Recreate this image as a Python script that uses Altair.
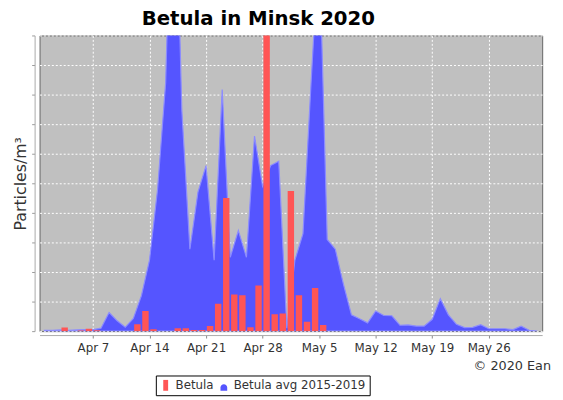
import altair as alt
import pandas as pd

# Days from Apr 1 2020 (area vertices at midnight)
avg_values = [0.3, 0.3, 0.4, 0.3, 0.4, 0.5, 0.5, 1.0, 6.3, 3.5,
              1.3, 4.3, 12, 24, 48, 84, 180, 75, 27.7, 47,
              56, 24, 81.7, 25, 34, 25, 66, 49, 56, 57.5,
              1, 24, 33, 84, 132, 31, 27.7, 16, 5.5, 4.2,
              2.8, 6.8, 5.3, 5.2, 2, 2.1, 1.7, 1.7, 4, 11,
              5.5, 2.3, 1.2, 1.3, 2.2, 0.8, 0.8, 0.8, 0.5, 1.7,
              0.3, 0]
# Daily 2020 counts Apr 1 .. May 5 (bars at noon)
betula_values = [0, 0, 1.2, 0, 0.2, 0.8, 0.3, 0, 0, 0,
                 0, 2.3, 6.8, 0.6, 0, 0, 1, 1, 0.4, 0.4,
                 1.7, 9.3, 45, 12.4, 12.1, 1.3, 15.4, 140, 5.7, 6,
                 47.4, 12.1, 3.2, 14.6, 2.1]
series_names = ["Betula", "Betula avg 2015-2019"]
tick_dates = ["2020-04-07", "2020-04-14", "2020-04-21", "2020-04-28",
              "2020-05-05", "2020-05-12", "2020-05-19", "2020-05-26"]
y_ticks = [0, 10, 20, 30, 40, 50, 60, 70, 80, 90, 100]

avg_dates = pd.date_range("2020-04-01", periods=len(avg_values), freq="D")
bar_dates = pd.date_range("2020-04-01 12:00", periods=len(betula_values), freq="D")

avg_df = pd.DataFrame({
    "date": [d.strftime("%Y-%m-%dT%H:%M:%SZ") for d in avg_dates],
    "value": avg_values,
})
bar_df = pd.DataFrame({
    "date": [d.strftime("%Y-%m-%dT%H:%M:%SZ") for d in bar_dates],
    "value": betula_values,
})
legend_df = pd.DataFrame({"series": series_names})

RED = "#ff5555"
BLUE = "#5555ff"
RECT_PATH = "M-0.45,-1H0.45V1H-0.45Z"
DOME_PATH = "M-0.62,1V0.4A0.62,0.62,0,0,1,0.62,0.4V1Z"

def dt(s):
    y, m, d = [int(p) for p in s.split("-")]
    return alt.DateTime(year=y, month=m, date=d, utc=True)

xscale = alt.Scale(type="utc", domain=[dt("2020-04-01"), dt("2020-06-01")], nice=False)
yscale = alt.Scale(domain=[0, 100], nice=False, zero=True)

xaxis = alt.Axis(values=[dt(t) for t in tick_dates], tickCount=20, format="%b %-d", title=None,
                 grid=True, gridColor="white", gridDash=[2, 2], gridWidth=1,
                 offset=4, tickSize=3, tickColor="#888", domainColor="#aaa",
                 labelFont="DejaVu Sans", labelFontSize=12, labelColor="#333",
                 labelPadding=5)
yaxis = alt.Axis(values=y_ticks, tickCount=20, labels=False, title="Particles/m³",
                 grid=True, gridColor="white", gridDash=[2, 2], gridWidth=1,
                 offset=5, tickSize=3, tickColor="#999", domainColor="#aaa",
                 titleFont="DejaVu Sans", titleFontSize=16, titleFontWeight="normal",
                 titleColor="#333", titlePadding=3)

area = alt.Chart(avg_df).mark_area(clip=True, interpolate="linear", stroke="#8c8cff",
                                   strokeWidth=1.2, color=BLUE, opacity=1).encode(
    x=alt.X("date:T", scale=xscale, axis=xaxis),
    y=alt.Y("value:Q", scale=yscale, axis=yaxis),
)

bars = alt.Chart(bar_df).mark_bar(clip=True, size=6.5, color=RED).encode(
    x=alt.X("date:T", scale=xscale, axis=xaxis),
    y=alt.Y("value:Q", scale=yscale, axis=yaxis),
)

leg = dict(title=None, orient="none", legendX=118, legendY=345,
           direction="horizontal", strokeColor="black", fillColor="white",
           padding=4, symbolSize=121, labelFont="DejaVu Sans",
           labelFontSize=12, labelColor="#333", columnPadding=4,
           labelOffset=4, symbolStrokeWidth=0)

legend_layer = alt.Chart(legend_df).mark_point(filled=True, opacity=1, clip=True).encode(
    x=alt.value(-200), y=alt.value(-200),
    color=alt.Color("series:N", scale=alt.Scale(domain=series_names, range=[RED, BLUE]),
                    legend=alt.Legend(**leg)),
    shape=alt.Shape("series:N", scale=alt.Scale(domain=series_names,
                                                range=[RECT_PATH, DOME_PATH]),
                    legend=alt.Legend(**leg)),
)

credit = alt.Chart(pd.DataFrame({"t": ["© 2020 Ean"]})).mark_text(
    align="right", baseline="alphabetic", font="DejaVu Sans", fontSize=13, color="#333"
).encode(x=alt.value(519), y=alt.value(339), text="t:N")

chart = alt.layer(area, bars, legend_layer, credit).properties(
    width=510, height=300,
    title=alt.TitleParams("Betula in Minsk 2020", font="DejaVu Sans", fontSize=20,
                          fontWeight="bold", color="black", anchor="middle",
                          frame="group", dx=-33, offset=6),
    autosize=alt.AutoSizeParams(type="none"),
    padding={"left": 32, "top": 25, "right": 13, "bottom": 67},
).configure_view(fill="#c0c0c0", stroke="#666", strokeWidth=1)

chart.save("out.html", embed_options={"renderer": "svg", "actions": False})
